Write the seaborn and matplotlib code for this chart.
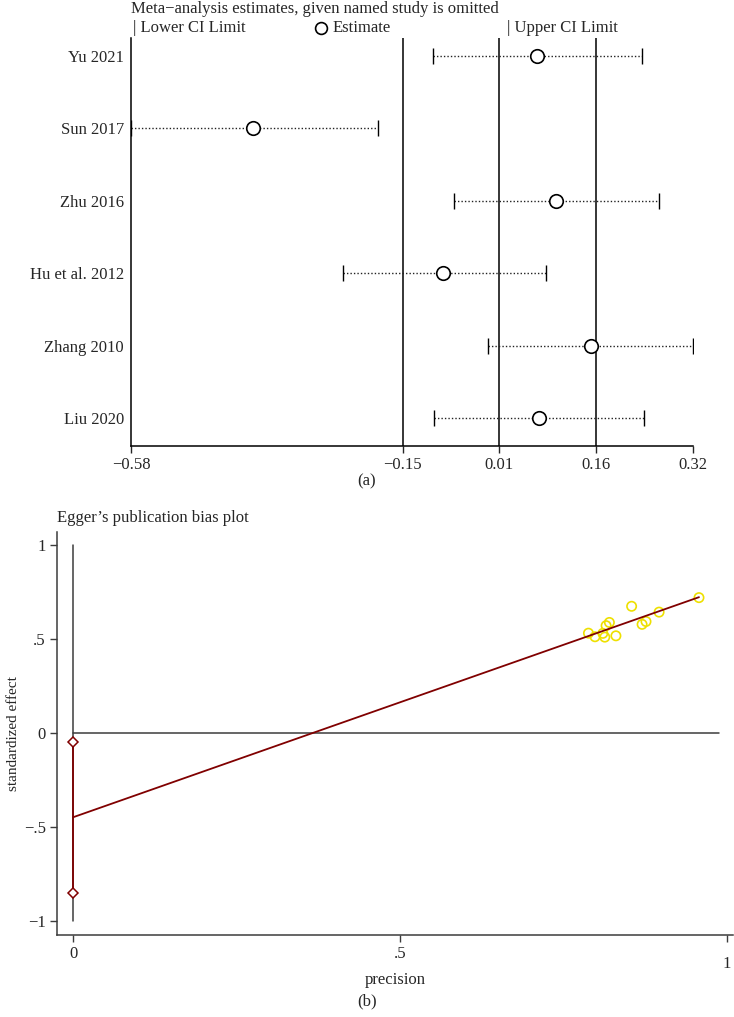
"""
Leave-one-out sensitivity plot and Egger's publication bias plot.
"""

import matplotlib
matplotlib.use("Agg")
import matplotlib.pyplot as plt
from matplotlib.transforms import ScaledTranslation
import seaborn as sns
import pandas as pd

# ---- data: panel (a), estimate with study omitted ----
studies = ["Yu 2021", "Sun 2017", "Zhu 2016", "Hu et al. 2012", "Zhang 2010", "Liu 2020"]
estimate = [0.070, -0.384, 0.101, -0.080, 0.157, 0.074]
ci_lower = [-0.097, -0.580, -0.063, -0.240, -0.009, -0.094]
ci_upper = [0.238, -0.185, 0.266, 0.085, 0.320, 0.242]
xtick_pos = [-0.580, -0.145, 0.009, 0.164, 0.320]
xtick_labels = ["\u22120.58", "\u22120.15", "0.01", "0.16", "0.32"]
overall_lines = [-0.145, 0.009, 0.164]

# ---- data: panel (b), Egger's regression ----
precision = [0.957, 0.854, 0.896, 0.876, 0.870, 0.820, 0.815, 0.788, 0.798, 0.810, 0.813, 0.830]
std_effect = [0.718, 0.672, 0.641, 0.591, 0.576, 0.586, 0.569, 0.529, 0.510, 0.528, 0.508, 0.515]
egger_intercept = -0.45
egger_slope = 1.223
intercept_ci = [-0.854, -0.051]

sns.set_style("white")
plt.rcParams['font.family'] = ['Liberation Serif', 'DejaVu Serif']
FS = 12

W, H = 734, 1017
fig = plt.figure(figsize=(W / 100, H / 100), dpi=100)


def px_box(left, top, right, bottom):
    return [left / W, 1 - bottom / H, (right - left) / W, (bottom - top) / H]


# ================= panel (a) =================
ax1 = fig.add_axes(px_box(131, 38, 693, 446))
df = pd.DataFrame({"study": studies, "row": range(len(studies)),
                   "est": estimate, "lo": ci_lower, "hi": ci_upper})

ax1.hlines(df["row"], df["lo"], df["hi"], colors="#222222",
           linestyles=(0, (1, 1.5)), linewidth=1.0, zorder=2)
ax1.plot(df["lo"], df["row"], "|", color="black", ms=11, mew=1.0, zorder=3)
ax1.plot(df["hi"], df["row"], "|", color="black", ms=11, mew=1.0, zorder=3)
for v in overall_lines:
    ax1.axvline(v, color="black", linewidth=1.1, zorder=1)
sns.scatterplot(data=df, x="est", y="row", ax=ax1, marker="o", s=95,
                facecolor="white", edgecolor="black", linewidth=1.2, zorder=4)

ax1.set_xlim(-0.58, 0.32)
ax1.set_ylim(5.387, -0.25)
ax1.set_xticks(xtick_pos)
ax1.set_xticklabels(xtick_labels)
ax1.set_yticks(df["row"])
ax1.set_yticklabels(studies)
ax1.set_xlabel("")
ax1.set_ylabel("")
for s in ["top", "right"]:
    ax1.spines[s].set_visible(False)
for s in ["left", "bottom"]:
    ax1.spines[s].set_color("black")
    ax1.spines[s].set_linewidth(1.1)
ax1.tick_params(axis="x", direction="out", length=5, width=1, pad=3, bottom=True,
                labelsize=FS)
ax1.tick_params(axis="y", length=0, pad=5, labelsize=FS)

# title and legend row
fig.text(131 / W, 1 - 9 / H, "Meta\u2212analysis estimates, given named study is omitted",
         ha="left", va="center", fontsize=FS)
fig.text(133 / W, 1 - 28 / H, "| Lower CI Limit", ha="left", va="center", fontsize=FS)
fig.text(333 / W, 1 - 28 / H, "Estimate", ha="left", va="center", fontsize=FS)
fig.text(507 / W, 1 - 28 / H, "| Upper CI Limit", ha="left", va="center", fontsize=FS)
fig.lines.append(plt.Line2D([321 / W], [1 - 28 / H], marker="o", ms=8.5,
                            mfc="white", mec="black", mew=1.2,
                            transform=fig.transFigure))
fig.text(367 / W, 1 - 481 / H, "(a)", ha="center", va="center", fontsize=FS)

# ================= panel (b) =================
gray = "#3c3c3c"
maroon = "#800000"
ax2 = fig.add_axes(px_box(57, 532, 733, 935))

ax2.plot([0, 0], [-1, 1], color=gray, linewidth=1.1, zorder=1)
ax2.plot([0, 0.987], [0, 0], color=gray, linewidth=1.1, zorder=1)

x_end = max(precision)
ax2.plot([0, x_end], [egger_intercept, egger_intercept + egger_slope * x_end],
         color=maroon, linewidth=1.3, zorder=3)
ax2.plot([0, 0], intercept_ci, color=maroon, linewidth=1.3, zorder=3)
ax2.plot([0, 0], intercept_ci, "D", ms=5, mfc="white", mec=maroon, mew=1.1,
         linestyle="none", zorder=4)

sns.scatterplot(x=precision, y=std_effect, ax=ax2, marker="o", s=45,
                facecolor="none", edgecolor="#EEE000", linewidth=1.2, zorder=2)

ax2.set_xlim(-0.0245, 1.009)
ax2.set_ylim(-1.076, 1.067)
ax2.set_xticks([0, 0.5, 1])
ax2.set_xticklabels(["0", ".5", "1"])
ax2.set_yticks([-1, -0.5, 0, 0.5, 1])
ax2.set_yticklabels(["\u22121", "\u2212.5", "0", ".5", "1"])
for s in ["top", "right"]:
    ax2.spines[s].set_visible(False)
for s in ["left", "bottom"]:
    ax2.spines[s].set_color(gray)
    ax2.spines[s].set_linewidth(1.1)
ax2.tick_params(axis="both", direction="out", length=5, width=1, color=gray,
                labelsize=FS, pad=3, left=True, bottom=True)
# the '1' label sits a little lower, as in the original
lbl = ax2.get_xticklabels()[2]
lbl.set_transform(lbl.get_transform() + ScaledTranslation(0, -10 / 100, fig.dpi_scale_trans))

ax2.set_xlabel("precision", fontsize=FS, labelpad=0)
ax2.set_ylabel("standardized effect", fontsize=11, labelpad=3)
fig.text(57 / W, 1 - 518 / H, "Egger\u2019s publication bias plot",
         ha="left", va="center", fontsize=FS)
fig.text(367 / W, 1 - 1001 / H, "(b)", ha="center", va="center", fontsize=FS)

fig.savefig("out.png", dpi=100)
plt.close(fig)
